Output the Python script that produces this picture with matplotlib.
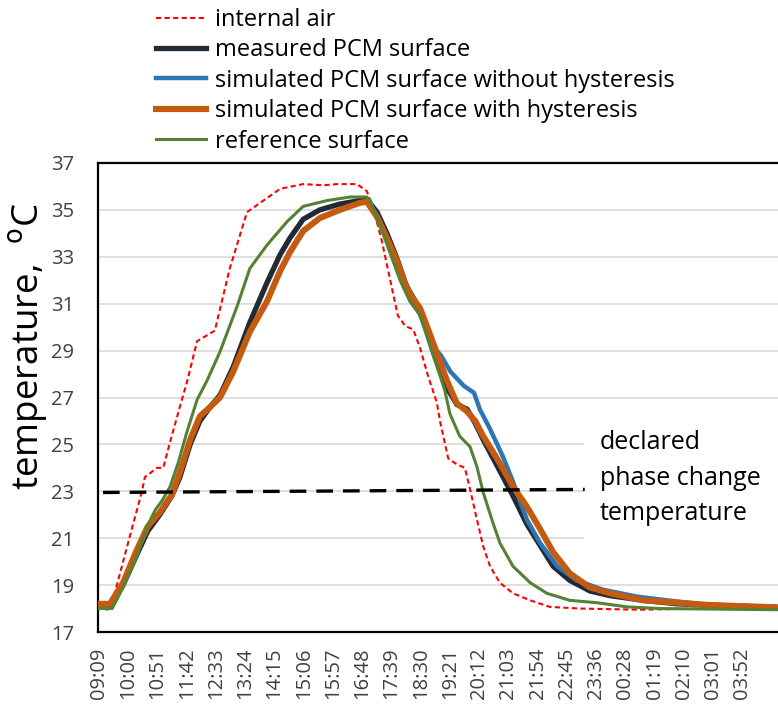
import matplotlib
matplotlib.use("Agg")
import matplotlib.pyplot as plt
from matplotlib.patches import Rectangle

plt.rcParams['font.family'] = ['Open Sans', 'DejaVu Sans']

# x positions are minutes after 09:09
tick_minutes = [0, 51, 102, 153, 204, 255, 306, 357, 408, 459, 510, 561,
                612, 663, 714, 765, 816, 867, 918, 969, 1020, 1071, 1122]
tick_labels = ["09:09", "10:00", "10:51", "11:42", "12:33", "13:24", "14:15",
               "15:06", "15:57", "16:48", "17:39", "18:30", "19:21", "20:12",
               "21:03", "21:54", "22:45", "23:36", "00:28", "01:19", "02:10",
               "03:01", "03:52"]

air_t = [0, 10, 14, 28, 54, 75, 80, 101, 112, 124, 141, 155, 171, 202, 228, 258,
         281, 316, 356, 391, 415, 450, 467, 478, 493, 507, 521, 534, 548, 560,
         574, 589, 595, 609, 624, 638, 647, 659, 670, 682, 699, 722, 752, 786,
         839, 943, 1048, 1184]
air_T = [18.1, 18.1, 17.95, 18.7, 21.1, 23.0, 23.6, 24.0, 24.0, 25.1, 26.6, 27.8,
         29.4, 29.85, 32.5, 34.9, 35.3, 35.9, 36.1, 36.05, 36.1, 36.1, 35.8, 35.1,
         33.7, 32.1, 30.5, 30.05, 29.9, 29.1, 27.9, 26.8, 25.95, 24.4, 24.15, 24.0,
         23.1, 21.8, 20.65, 19.8, 19.1, 18.65, 18.35, 18.07, 18.0, 17.95, 18.0, 18.0]

meas_t = [0, 19, 42, 66, 85, 106, 127, 141, 159, 176, 194, 211, 234, 263, 293,
          316, 333, 356, 385, 420, 455, 467, 485, 502, 520, 534, 548, 560, 574,
          589, 607, 624, 642, 656, 670, 694, 722, 746, 769, 792, 821, 856, 891,
          949, 1008, 1065, 1123, 1184]
meas_T = [18.15, 18.15, 19.0, 20.3, 21.3, 22.0, 22.8, 23.6, 25.0, 26.0, 26.6,
          27.1, 28.3, 30.2, 31.9, 33.1, 33.8, 34.6, 35.0, 35.25, 35.4, 35.45,
          34.9, 34.0, 32.9, 31.9, 31.1, 30.6, 29.7, 28.6, 27.4, 26.7, 26.5, 25.9,
          25.2, 24.1, 22.8, 21.6, 20.7, 19.8, 19.2, 18.75, 18.55, 18.35, 18.2,
          18.15, 18.1, 18.05]

nohys_t = [0, 19, 42, 66, 85, 106, 127, 141, 159, 176, 194, 211, 234, 263, 293,
           316, 333, 356, 385, 420, 455, 467, 485, 502, 520, 534, 548, 560, 574,
           589, 596, 613, 636, 654, 664, 682, 704, 722, 746, 769, 799, 833, 879,
           940, 1008, 1065, 1123, 1184]
nohys_T = [18.2, 18.2, 19.1, 20.5, 21.5, 22.1, 22.85, 23.8, 25.2, 26.2, 26.6,
           27.0, 28.1, 29.8, 31.1, 32.4, 33.2, 34.1, 34.65, 35.0, 35.3, 35.35,
           34.7, 33.8, 32.8, 31.9, 31.3, 30.8, 29.9, 29.0, 28.8, 28.1, 27.5, 27.2,
           26.5, 25.65, 24.5, 23.4, 21.8, 20.8, 19.8, 19.2, 18.8, 18.5, 18.3,
           18.15, 18.1, 18.05]

hys_t = [0, 19, 42, 66, 85, 106, 127, 141, 159, 176, 194, 211, 234, 263, 293,
         316, 333, 356, 385, 420, 455, 467, 485, 502, 520, 534, 548, 560, 574,
         589, 607, 624, 642, 656, 670, 694, 722, 746, 769, 792, 821, 856, 891,
         949, 1008, 1065, 1123, 1184]
hys_T = [18.2, 18.2, 19.1, 20.5, 21.5, 22.1, 22.85, 23.8, 25.2, 26.2, 26.6,
         27.0, 28.1, 29.8, 31.1, 32.4, 33.2, 34.1, 34.65, 35.0, 35.3, 35.35,
         34.7, 33.8, 32.8, 31.8, 31.2, 30.8, 29.9, 28.9, 27.7, 26.75, 26.4, 26.0,
         25.35, 24.4, 23.2, 22.35, 21.4, 20.4, 19.5, 18.9, 18.65, 18.35, 18.25,
         18.15, 18.1, 18.05]

ref_t = [0, 23, 42, 66, 84, 98, 110, 124, 138, 153, 171, 188, 211, 241, 263, 293,
         328, 356, 398, 438, 467, 473, 490, 507, 525, 542, 560, 577, 595, 603,
         612, 629, 647, 659, 670, 685, 699, 722, 752, 781, 821, 868, 921, 978, 1184]
ref_T = [18.0, 18.0, 18.9, 20.2, 21.5, 22.2, 22.6, 23.2, 24.2, 25.5, 26.9, 27.7,
         28.95, 30.9, 32.5, 33.5, 34.5, 35.15, 35.4, 35.55, 35.55, 35.4, 34.35,
         33.2, 32.0, 31.1, 30.5, 29.2, 27.9, 27.3, 26.3, 25.35, 24.9, 24.05, 22.95,
         21.8, 20.8, 19.8, 19.1, 18.65, 18.35, 18.25, 18.07, 18.0, 17.95]

phase_t = [7, 847]
phase_T = [22.95, 23.08]

labels = ["internal air", "measured PCM surface",
          "simulated PCM surface without hysteresis",
          "simulated PCM surface with hysteresis", "reference surface"]

fig = plt.figure(figsize=(7.78, 7.06), dpi=100)
ax = fig.add_axes([98/778, 74/706, 680/778, 469/706])

l1, = ax.plot(air_t, air_T, color='#FF0000', lw=1.5, ls=(0, (2.5, 1.6)), zorder=3)
l2, = ax.plot(meas_t, meas_T, color='#222A35', lw=3.8, zorder=4)
l3, = ax.plot(nohys_t, nohys_T, color='#2E75B6', lw=3.2, zorder=5)
l4, = ax.plot(hys_t, hys_T, color='#C55A11', lw=4.4, zorder=6)
l5, = ax.plot(ref_t, ref_T, color='#548235', lw=2.2, zorder=7)
ax.plot(phase_t, phase_T, color='black', lw=2.4, ls=(0, (5, 3)), zorder=8)

ax.set_xlim(-1.7, 1184)
ax.set_ylim(17, 37)
ax.set_yticks(range(17, 38, 2))
ax.set_xticks(tick_minutes)
ax.set_xticklabels(tick_labels, rotation=90)
ax.yaxis.grid(True, color='#D9D9D9', lw=1.2, zorder=0)
ax.set_axisbelow(True)
ax.tick_params(axis='both', length=0, colors='#404040')
ax.tick_params(axis='y', labelsize=14.5, pad=17)
ax.tick_params(axis='x', labelsize=14.5, pad=11)
for s in ['left', 'bottom', 'top']:
    ax.spines[s].set_color('black')
    ax.spines[s].set_linewidth(1.6)
ax.spines['right'].set_visible(False)

ax.add_patch(Rectangle((0.715, 0.154), 0.285, 0.315, transform=ax.transAxes,
                       facecolor='white', edgecolor='none', zorder=1))
ax.text(0.738, 0.328, "declared\nphase change\ntemperature", transform=ax.transAxes,
        fontsize=18, ha='left', va='center', linespacing=1.55, color='black', zorder=9)

fig.text(28/778, 1 - 346/706, "temperature,  $^{\\rm o}$C", rotation=90,
         ha='center', va='center', fontsize=26.5, color='black')

fig.legend([l1, l2, l3, l4, l5], labels, loc='upper left',
           bbox_to_anchor=(156/778, 1 - 8/706), frameon=False, fontsize=17,
           handlelength=2.1, handletextpad=0.38, labelspacing=0.27,
           borderaxespad=0, borderpad=0)

fig.savefig("out.png", dpi=100)
